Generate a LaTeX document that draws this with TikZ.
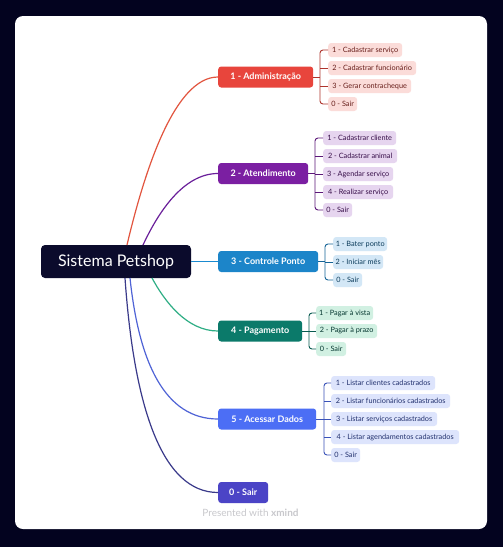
\documentclass[tikz,border=0pt]{standalone}
\usepackage{fontspec}
\setmainfont{Lato}
\definecolor{bgdark}{HTML}{03031F}
\definecolor{rootc}{HTML}{0B0B2C}
\definecolor{cA}{HTML}{E8453C}\definecolor{lA}{HTML}{FBDCD9}\definecolor{eA}{HTML}{E2553F}
\definecolor{cB}{HTML}{7B1FA2}\definecolor{lB}{HTML}{E6D5EF}\definecolor{eB}{HTML}{6A1F9A}
\definecolor{cC}{HTML}{1C85C9}\definecolor{lC}{HTML}{D3E7F6}\definecolor{eC}{HTML}{1A8AD0}
\definecolor{cD}{HTML}{0B7A6A}\definecolor{lD}{HTML}{D1F0E2}\definecolor{eD}{HTML}{2FAE85}
\definecolor{cE}{HTML}{4C6EF5}\definecolor{lE}{HTML}{DDE4FC}\definecolor{eE}{HTML}{4F63D6}
\definecolor{cF}{HTML}{4B44C6}\definecolor{eF}{HTML}{3A3A8A}
\definecolor{foot}{HTML}{C8C8CC}
\begin{document}
\begin{tikzpicture}[x=1pt,y=-1pt,
  rootbox/.style={fill=rootc, text=white, rounded corners=4pt, minimum height=33pt, minimum width=150pt, inner sep=0pt, font=\fontsize{16}{18}\selectfont},
  br/.style={fill=#1, text=white, rounded corners=3pt, minimum height=21pt, inner sep=0pt, anchor=west, font=\fontsize{9}{10}\selectfont\bfseries},
  lf/.style={fill=l#1, text=c#1!45!black, rounded corners=3pt, minimum height=14pt, inner sep=0pt, anchor=west, font=\fontsize{7.3}{8}\selectfont},
  mainln/.style={draw=#1, line width=1.2pt},
  brk/.style={draw=c#1!75!black, line width=0.9pt}
]
\fill[bgdark] (0,0) rectangle (503,547);
\useasboundingbox (0,0) rectangle (503,547);
\fill[white, rounded corners=8pt] (15,16) rectangle (487,529);

% root
\node[rootbox] (root) at (116,261.5) {Sistema Petshop};

% branches
\node[br=cA, minimum width=95pt] (b1) at (218,77) {1 - Administração};
\node[br=cB, minimum width=90pt] (b2) at (218,173.5) {2 - Atendimento};
\node[br=cC, minimum width=100pt] (b3) at (218,261.5) {3 - Controle Ponto};
\node[br=cD, minimum width=84pt] (b4) at (218,331) {4 - Pagamento};
\node[br=cE, minimum width=98pt] (b5) at (218,419) {5 - Acessar Dados};
\node[br=cF, minimum width=50pt] (b6) at (218,492.5) {0 - Sair};

% start points on root
\coordinate (r1) at (127,245);
\coordinate (r2) at (143,245);
\coordinate (r4) at (152,278);
\coordinate (r5) at (130,278);
\coordinate (r6) at (125,278);

\draw[mainln=eA] (r1) .. controls +(18,-76) and +(-43,0) .. (b1.west);
\draw[mainln=eB] (r2) .. controls +(15,-32) and +(-35,0) .. (b2.west);
\draw[mainln=eC] (root.east |- b3.west) -- (b3.west);
\draw[mainln=eD] (r4) .. controls +(13,24) and +(-31,0) .. (b4.west);
\draw[mainln=eE] (r5) .. controls +(9,85) and +(-53,0) .. (b5.west);
\draw[mainln=eF] (r6) .. controls +(9,129) and +(-56,0) .. (b6.west);

% leaves 1
\node[lf=A, minimum width=74pt] (a1) at (328,50) {1 - Cadastrar serviço};
\node[lf=A, minimum width=88pt] (a2) at (328,68) {2 - Cadastrar funcionário};
\node[lf=A, minimum width=83pt] (a3) at (328,86) {3 - Gerar contracheque};
\node[lf=A, minimum width=29pt] (a4) at (328,104) {0 - Sair};
\coordinate (s1) at (320,77);
\draw[brk=A] (b1.east) -- (s1);
\draw[brk=A, rounded corners=3pt] (a1.west) -| (s1 |- a4.west) -- (a4.west);
\draw[brk=A] (s1 |- a2.west) -- (a2.west);
\draw[brk=A] (s1 |- a3.west) -- (a3.west);

% leaves 2
\node[lf=B, minimum width=73pt] (c1) at (323,138) {1 - Cadastrar cliente};
\node[lf=B, minimum width=74pt] (c2) at (323,156) {2 - Cadastrar animal};
\node[lf=B, minimum width=70pt] (c3) at (323,174) {3 - Agendar serviço};
\node[lf=B, minimum width=70pt] (c4) at (323,192) {4 - Realizar serviço};
\node[lf=B, minimum width=29pt] (c5) at (323,210) {0 - Sair};
\coordinate (s2) at (315,173.5);
\draw[brk=B] (b2.east) -- (s2);
\draw[brk=B, rounded corners=3pt] (c1.west) -| (s2 |- c5.west) -- (c5.west);
\draw[brk=B] (s2 |- c2.west) -- (c2.west);
\draw[brk=B] (s2 |- c3.west) -- (c3.west);
\draw[brk=B] (s2 |- c4.west) -- (c4.west);

% leaves 3
\node[lf=C, minimum width=54pt] (d1) at (333,244) {1 - Bater ponto};
\node[lf=C, minimum width=50pt] (d2) at (333,262) {2 - Iniciar mês};
\node[lf=C, minimum width=29pt] (d3) at (333,280) {0 - Sair};
\coordinate (s3) at (325,261.5);
\draw[brk=C] (b3.east) -- (s3);
\draw[brk=C, rounded corners=3pt] (d1.west) -| (s3 |- d3.west) -- (d3.west);
\draw[brk=C] (s3 |- d2.west) -- (d2.west);

% leaves 4
\node[lf=D, minimum width=57pt] (e1) at (316,313) {1 - Pagar à vista};
\node[lf=D, minimum width=61pt] (e2) at (316,331) {2 - Pagar à prazo};
\node[lf=D, minimum width=30pt] (e3) at (316,349) {0 - Sair};
\coordinate (s4) at (309,331);
\draw[brk=D] (b4.east) -- (s4);
\draw[brk=D, rounded corners=3pt] (e1.west) -| (s4 |- e3.west) -- (e3.west);
\draw[brk=D] (s4 |- e2.west) -- (e2.west);

% leaves 5
\node[lf=E, minimum width=104pt] (f1) at (331,383) {1 - Listar clientes cadastrados};
\node[lf=E, minimum width=119pt] (f2) at (331,401) {2 - Listar funcionários cadastrados};
\node[lf=E, minimum width=106pt] (f3) at (331,419) {3 - Listar serviços cadastrados};
\node[lf=E, minimum width=128pt] (f4) at (331,437) {4 - Listar agendamentos cadastrados};
\node[lf=E, minimum width=29pt] (f5) at (331,455) {0 - Sair};
\coordinate (s5) at (324,419);
\draw[brk=E] (b5.east) -- (s5);
\draw[brk=E, rounded corners=3pt] (f1.west) -| (s5 |- f5.west) -- (f5.west);
\draw[brk=E] (s5 |- f2.west) -- (f2.west);
\draw[brk=E] (s5 |- f3.west) -- (f3.west);
\draw[brk=E] (s5 |- f4.west) -- (f4.west);

% footer
\node[text=foot, font=\fontsize{10}{11}\selectfont] (foot) at (250.5,513) {Presented with \textbf{xmind}};
\end{tikzpicture}
\end{document}
